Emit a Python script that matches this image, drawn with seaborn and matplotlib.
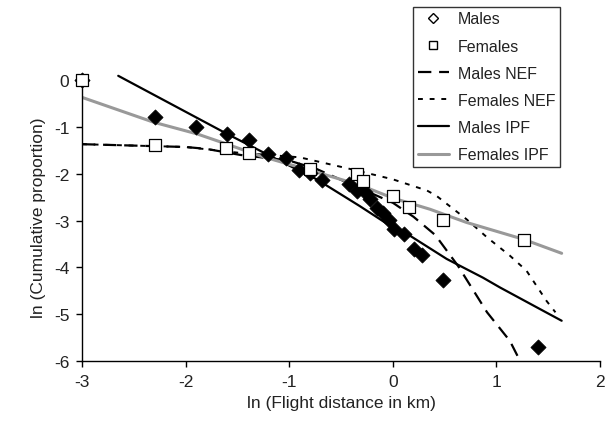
import numpy as np
import pandas as pd
import seaborn as sns
import matplotlib
matplotlib.use("Agg")
import matplotlib.pyplot as plt
from matplotlib.lines import Line2D

## data
males_x = [-3.0, -2.3, -1.9, -1.6, -1.385, -1.2, -1.035, -0.905, -0.795, -0.685, -0.42,
           -0.345, -0.27, -0.22, -0.15, -0.09, -0.035, 0.01, 0.11, 0.205, 0.28, 0.48, 1.40]
males_y = [0.0, -0.78, -1.0, -1.15, -1.28, -1.57, -1.67, -1.92, -1.99, -2.14, -2.21,
           -2.38, -2.40, -2.54, -2.74, -2.84, -2.98, -3.18, -3.29, -3.61, -3.74, -4.28, -5.70]

females_x = [-3.0, -2.3, -1.61, -1.385, -0.8, -0.35, -0.285, 0.0, 0.155, 0.48, 1.27]
females_y = [0.0, -1.38, -1.46, -1.55, -1.91, -2.01, -2.15, -2.48, -2.71, -2.99, -3.41]

males_nef_x = [-3.0, -2.5, -2.0, -1.8, -1.47, -1.0, -0.735, -0.41, 0.0, 0.2, 0.41, 0.63, 0.91, 1.13, 1.245]
males_nef_y = [-1.37, -1.40, -1.43, -1.47, -1.60, -1.72, -1.90, -2.22, -2.62, -2.92, -3.31, -3.97, -4.96, -5.57, -6.07]

females_nef_x = [-3.0, -2.5, -2.0, -1.5, -0.9, -0.41, 0.0, 0.33, 0.42, 0.71, 0.91, 1.13, 1.29, 1.485, 1.57]
females_nef_y = [-1.37, -1.40, -1.43, -1.55, -1.65, -1.90, -2.12, -2.36, -2.47, -2.97, -3.36, -3.75, -4.07, -4.72, -4.96]

males_ipf_x = [-2.65, -1.6, -1.06, -0.735, -0.32, 0.0, 0.17, 0.52, 0.87, 1.035, 1.42, 1.63]
males_ipf_y = [0.09, -1.15, -1.76, -2.12, -2.69, -3.15, -3.33, -3.82, -4.22, -4.43, -4.89, -5.14]

females_ipf_x = [-3.0, -2.31, -1.89, -1.6, -1.28, -0.735, -0.32, 0.0, 0.36, 0.71, 1.26, 1.63]
females_ipf_y = [-0.37, -0.90, -1.15, -1.37, -1.62, -1.97, -2.24, -2.52, -2.76, -3.04, -3.40, -3.70]

x_ticks = [-3, -2, -1, 0, 1, 2]
y_ticks = [-6, -5, -4, -3, -2, -1, 0]

sns.set_theme(style="white")
plt.rcParams["font.family"] = ["Liberation Sans", "DejaVu Sans"]

fig = plt.figure(figsize=(6.15, 4.27), dpi=100)
ax = fig.add_axes([0.1333, 0.1522, 0.8423, 0.6745])

## fitted curves
lines = [
    (males_nef_x, males_nef_y, dict(color="black", lw=1.6, dashes=(6, 3.5))),
    (females_nef_x, females_nef_y, dict(color="black", lw=1.4, dashes=(2.5, 3.5))),
    (males_ipf_x, males_ipf_y, dict(color="black", lw=1.6)),
    (females_ipf_x, females_ipf_y, dict(color="#999999", lw=2.2)),
]
for lx, ly, kw in lines:
    df = pd.DataFrame({"x": lx, "y": ly})
    sns.lineplot(data=df, x="x", y="y", sort=False, estimator=None, ax=ax, **kw)

## observed points
sns.scatterplot(x=males_x, y=males_y, marker="D", s=60, color="black",
                edgecolor="black", linewidth=0.5, ax=ax, zorder=5, clip_on=False)
sns.scatterplot(x=females_x, y=females_y, marker="s", s=75, facecolor="white",
                edgecolor="black", linewidth=0.9, ax=ax, zorder=6, clip_on=False)

ax.set_xlim(-3, 2)
ax.set_ylim(-6, 0.15)
ax.set_xticks(x_ticks)
ax.set_yticks(y_ticks)
ax.set_xticklabels([str(t) for t in x_ticks])
ax.set_yticklabels([str(t) for t in y_ticks])
ax.spines["top"].set_visible(False)
ax.spines["right"].set_visible(False)
ax.spines["left"].set_bounds(-6, 0)
for s in ["left", "bottom"]:
    ax.spines[s].set_color("black")
    ax.spines[s].set_linewidth(1.0)
ax.tick_params(axis="both", direction="out", length=4, width=1, color="black",
               labelsize=12.5, labelcolor="#222222", left=True, bottom=True, pad=5)
ax.set_xlabel("ln (Flight distance in km)", fontsize=12.5, color="#222222", labelpad=5)
ax.set_ylabel("ln (Cumulative proportion)", fontsize=12.5, color="#222222", labelpad=6)

handles = [
    Line2D([], [], ls="none", marker="D", ms=5, mfc="white", mec="black", mew=1),
    Line2D([], [], ls="none", marker="s", ms=6, mfc="white", mec="black", mew=1),
    Line2D([], [], color="black", lw=1.6, dashes=(6, 3.5)),
    Line2D([], [], color="black", lw=1.4, dashes=(2.5, 3.5)),
    Line2D([], [], color="black", lw=1.6),
    Line2D([], [], color="#999999", lw=2.2),
]
labels = ["Males", "Females", "Males NEF", "Females NEF", "Males IPF", "Females IPF"]
leg = fig.legend(handles, labels, loc="upper left", bbox_to_anchor=(0.6715, 0.982),
                 frameon=True, fancybox=False, fontsize=11.5, handlelength=1.95,
                 handletextpad=0.55, labelspacing=0.76, borderpad=0.3,
                 borderaxespad=0, facecolor="white")
leg.get_frame().set_edgecolor("black")
leg.get_frame().set_linewidth(1.0)
for t in leg.get_texts():
    t.set_color("#222222")

fig.savefig("out.png", dpi=100)
